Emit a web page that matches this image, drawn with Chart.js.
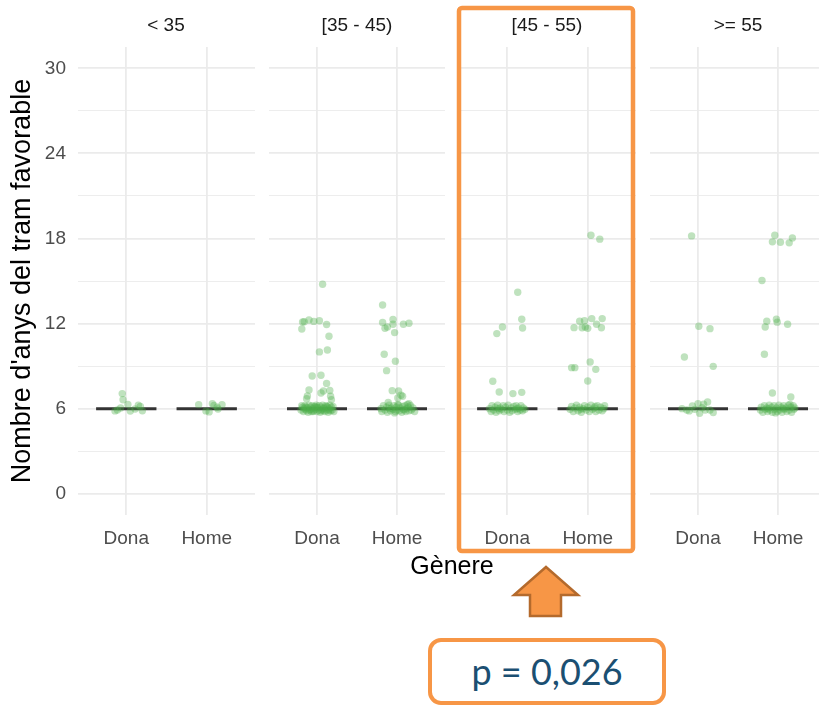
<!DOCTYPE html>
<html>
<head>
<meta charset="utf-8">
<script src="https://cdn.jsdelivr.net/npm/chart.js@4.4.1/dist/chart.umd.min.js"></script>
<style>
  html, body { margin: 0; padding: 0; background: #fff; overflow: hidden; }
  body { width: 819px; height: 705px; position: relative; font-family: "Liberation Sans", Arial, sans-serif; }
  canvas { position: absolute; top: 0; }
  .strip { position: absolute; top: 14px; width: 200px; text-align: center; font-size: 19px; color: #1a1a1a; }
  #xtitle { position: absolute; left: 352px; width: 200px; top: 551px; text-align: center; font-size: 25px; color: #000; }
  #pbox {
    position: absolute; left: 428px; top: 638px; width: 230px; height: 59px;
    border: 4px solid #f79646; border-radius: 13px; background: #fff;
    font-family: Lato, "Open Sans", sans-serif; font-size: 36px; color: #1b4f72;
    text-align: center; line-height: 59px;
  }
  svg { position: absolute; left: 0; top: 0; }
</style>
</head>
<body>
<canvas id="p0" width="255" height="560" style="left:0px"></canvas>
<canvas id="p1" width="176" height="560" style="left:269px"></canvas>
<canvas id="p2" width="177" height="560" style="left:459px"></canvas>
<canvas id="p3" width="176" height="560" style="left:650px"></canvas>

<div class="strip" id="s0" style="left:66px"></div>
<div class="strip" id="s1" style="left:257px"></div>
<div class="strip" id="s2" style="left:447px"></div>
<div class="strip" id="s3" style="left:638px"></div>
<div id="xtitle">Gènere</div>

<svg width="819" height="705">
  <rect x="459" y="8" width="174" height="543" rx="3" fill="none" stroke="#f79646" stroke-width="4.5"/>
  <polygon points="546,567 578,595 561,595 561,616 530,616 530,595 514,595"
           fill="#f79646" stroke="#b46a2c" stroke-width="2.5" stroke-linejoin="miter"/>
</svg>
<div id="pbox">p = 0,026</div>

<script>
const ageGroups = ["< 35", "[35 - 45)", "[45 - 55)", ">= 55"];
const genders = ["Dona", "Home"];
const yTicks = [0, 3, 6, 9, 12, 15, 18, 21, 24, 27, 30];
const medians = [[6, 6], [6, 6], [6, 6], [6, 6]];

// points: [jitter offset from the category, years]
const dona35 = [[-0.14,5.84],[-0.11,5.9],[-0.07,6.05],[0.02,6.3],[0.05,5.83],[0.11,5.97],
  [0.15,6.25],[0.175,6.15],[0.2,5.85],[-0.05,7.06],[-0.04,6.63]];
const home35 = [[-0.1,6.28],[-0.01,5.84],[0.03,5.77],[0.07,6.35],[0.09,6.23],[0.14,5.97],
  [0.19,6.28],[0.13,6.1]];

const dona45 = [[0.07,14.77],[-0.18,12.11],[-0.16,12.13],[-0.1,12.25],[-0.04,12.15],[0.03,12.2],
  [0.12,11.93],[-0.19,11.62],[0.15,11.1],[0.03,10.0],[0.13,10.13],[-0.06,8.3],[0.05,8.35],
  [0.12,7.78],[-0.1,7.31],[0.08,7.24],[0.16,7.28],[0.05,7.1],[-0.12,6.89],[0.17,6.87],
  [0.18,6.63],[-0.13,6.7],
  [-0.2,5.9],[-0.18,6.1],[-0.17,5.8],[-0.15,6.2],[-0.14,5.95],[-0.12,6.05],[-0.11,5.75],
  [-0.1,6.25],[-0.09,5.9],[-0.08,6.1],[-0.07,5.8],[-0.06,6.2],[-0.05,6.0],[-0.04,5.85],
  [-0.03,6.15],[-0.02,5.95],[-0.01,6.25],[0,5.8],[0.01,6.05],[0.02,5.9],[0.03,6.2],
  [0.04,5.75],[0.05,6.1],[0.06,5.95],[0.07,6.25],[0.08,5.85],[0.09,6.05],[0.1,5.8],
  [0.11,6.2],[0.12,5.9],[0.13,6.1],[0.14,5.75],[0.15,6.0],[0.16,6.25],[0.17,5.85],
  [0.18,6.1],[0.19,5.9],[0.2,6.15],[0.21,5.8],[-0.16,6.0],[-0.13,5.85],[-0.02,6.1],
  [0.05,5.85],[0.12,6.15],[-0.19,6.2],[-0.08,5.95],[0.0,6.1],[0.08,6.0],[-0.14,6.1],
  [0.15,5.9],[-0.05,5.8]];
const home45 = [[-0.18,13.31],[-0.05,12.28],[-0.18,12.07],[-0.12,11.76],[-0.15,11.67],
  [-0.05,11.95],[0.08,11.95],[0.15,12.02],[-0.03,11.36],[-0.16,9.83],[-0.02,9.34],
  [-0.13,8.68],[-0.06,7.27],[0.02,7.25],[0.05,6.94],[0.01,6.75],[0.07,6.87],[-0.11,6.44],
  [0.15,6.35],
  [-0.2,6.0],[-0.19,5.8],[-0.17,6.2],[-0.15,5.9],[-0.13,6.1],[-0.12,5.75],[-0.1,6.25],
  [-0.08,5.85],[-0.07,6.05],[-0.05,5.95],[-0.04,6.2],[-0.02,5.8],[-0.01,6.1],[0,5.9],
  [0.02,6.25],[0.03,5.85],[0.04,6.05],[0.06,5.75],[0.07,6.15],[0.08,5.95],[0.1,6.2],
  [0.11,5.8],[0.12,6.0],[0.14,6.1],[0.15,5.85],[0.17,6.2],[0.18,5.9],[0.2,6.05],
  [0.22,5.8],[-0.09,6.0],[0.09,5.9],[0.01,6.3],[-0.03,5.7],[0.13,6.3]];

const dona55 = [[0.13,14.21],[-0.06,11.76],[-0.13,11.29],[0.18,12.3],[0.19,11.69],
  [-0.18,7.93],[-0.1,7.17],[0.07,7.06],[0.18,7.15],
  [-0.22,6.0],[-0.2,5.8],[-0.19,6.2],[-0.17,5.9],[-0.15,6.1],[-0.14,5.75],[-0.12,6.25],
  [-0.1,5.85],[-0.09,6.05],[-0.07,5.95],[-0.05,6.2],[-0.04,5.8],[-0.02,6.1],[0,5.9],
  [0.01,6.25],[0.03,5.75],[0.05,6.05],[0.06,5.85],[0.08,6.15],[0.1,5.95],[0.11,6.2],
  [0.13,5.8],[0.14,6.05],[0.16,5.9],[0.17,6.2],[0.19,5.85],[0.2,6.05],[0.22,5.95],
  [-0.11,6.0],[0.12,6.0]];
const home55 = [[-0.1,12.16],[-0.04,12.2],[0.05,12.35],[0.18,12.35],[0.11,11.95],
  [-0.17,11.71],[-0.07,11.7],[-0.03,11.76],[0.17,11.7],[0,11.66],[-0.2,8.89],[-0.16,8.89],
  [0.03,9.29],[0.1,8.77],[0,7.95],[0.04,18.23],[0.15,17.95],
  [-0.22,5.95],[-0.2,6.15],[-0.18,5.8],[-0.16,6.05],[-0.14,6.25],[-0.12,5.85],[-0.1,6.1],
  [-0.08,5.75],[-0.06,6.0],[-0.04,6.2],[-0.02,5.9],[0,6.1],[0.02,5.8],[0.04,6.25],
  [0.06,5.95],[0.08,6.05],[0.1,5.8],[0.12,6.2],[0.14,5.9],[0.16,6.1],[0.18,5.85],
  [0.2,6.0],[0.21,6.2],[-0.09,5.95],[0.09,6.15]];

const dona65 = [[-0.08,18.18],[0.01,11.81],[0.15,11.64],[-0.17,9.64],[0.19,8.98],
  [-0.2,6.0],[-0.11,5.84],[-0.07,6.19],[-0.04,5.95],[0,6.35],[0.02,5.67],[0.07,6.31],
  [0.09,5.9],[0.12,6.47],[0.15,5.9],[0.19,5.72],[0.05,6.07],[-0.14,5.9]];
const home65 = [[-0.04,18.23],[-0.07,17.76],[0.03,17.73],[0.14,17.69],[0.18,18.04],
  [-0.2,15.03],[-0.14,12.16],[-0.16,11.76],[-0.02,12.3],[-0.01,12.1],[0.12,11.95],
  [-0.17,9.83],[-0.07,7.1],[0.16,6.82],
  [-0.22,5.9],[-0.21,6.1],[-0.19,5.75],[-0.17,6.2],[-0.16,5.95],[-0.14,6.05],[-0.13,5.8],
  [-0.11,6.25],[-0.1,5.9],[-0.08,6.1],[-0.07,5.75],[-0.05,6.2],[-0.04,5.95],[-0.02,6.05],
  [-0.01,5.8],[0.01,6.25],[0.02,5.9],[0.04,6.1],[0.05,5.75],[0.07,6.2],[0.08,5.95],
  [0.1,6.05],[0.11,5.8],[0.13,6.25],[0.14,5.9],[0.16,6.1],[0.17,5.75],[0.19,6.2],
  [0.2,5.95],[0.21,6.05],[-0.12,6.0],[0.06,6.0],[0.15,6.3],[-0.03,5.7]];

const panelData = [[dona35, home35], [dona45, home45], [dona55, home55], [dona65, home65]];

const green = "rgba(77, 175, 74, 0.36)";
const gridColor = "#ebebeb";
const font = "'Liberation Sans', Arial, sans-serif";

ageGroups.forEach((name, p) => {
  document.getElementById("s" + p).textContent = name;
  const first = p === 0;
  const pts = [];
  panelData[p].forEach((arr, g) => {
    arr.forEach(([dx, y]) => pts.push({ x: g + 1 + dx, y: y }));
  });
  const datasets = [
    {
      type: "scatter",
      data: pts,
      backgroundColor: green,
      borderWidth: 0,
      pointRadius: 3.7,
      order: 0,
    },
  ];
  medians[p].forEach((m, g) => {
    datasets.push({
      type: "line",
      data: [{ x: g + 1 - 0.375, y: m }, { x: g + 1 + 0.375, y: m }],
      borderColor: "#333333",
      borderWidth: 3,
      pointRadius: 0,
      order: 1,
    });
  });
  new Chart(document.getElementById("p" + p), {
    type: "scatter",
    data: { datasets: datasets },
    options: {
      responsive: false,
      animation: false,
      devicePixelRatio: 1,
      layout: { autoPadding: false, padding: { top: 47, left: 0, right: 0, bottom: 0 } },
      scales: {
        x: {
          type: "linear",
          min: 0.4,
          max: 2.6,
          afterBuildTicks: (s) => { s.ticks = genders.map((_, i) => ({ value: i + 1 })); },
          afterFit: (s) => { s.height = 45; },
          border: { display: false },
          grid: { color: gridColor, lineWidth: 1.8, drawTicks: false },
          ticks: {
            padding: 12,
            color: "#4d4d4d",
            font: { family: font, size: 19 },
            callback: (v) => genders[v - 1],
          },
        },
        y: {
          min: -1.5,
          max: 31.5,
          afterBuildTicks: (s) => { s.ticks = yTicks.map((v) => ({ value: v })); },
          afterFit: (s) => { s.width = first ? 78 : 0; },
          border: { display: false },
          grid: {
            color: gridColor,
            drawTicks: false,
            lineWidth: (c) => (c.tick && c.tick.value % 6 === 0 ? 1.8 : 0.9),
          },
          ticks: {
            display: first,
            padding: 12,
            color: "#4d4d4d",
            font: { family: font, size: 19 },
            callback: (v) => (v % 6 === 0 ? v : ""),
          },
          title: {
            display: first,
            text: "Nombre d'anys del tram favorable",
            color: "#000",
            font: { family: font, size: 27 },
            padding: { top: 6, bottom: 0 },
          },
        },
      },
      plugins: { legend: { display: false }, tooltip: { enabled: false } },
    },
  });
});
</script>
</body>
</html>
